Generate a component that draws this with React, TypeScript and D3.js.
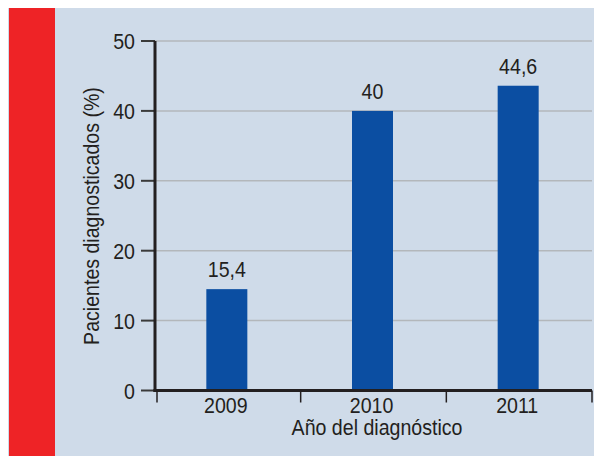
import React from "react";
import * as d3 from "d3";

const years = ["2009", "2010", "2011"];
const barValues = [14.5, 40, 43.6];
const valueLabels = ["15,4", "40", "44,6"];
const yTicks = [0, 10, 20, 30, 40, 50];
const xTitle = "Año del diagnóstico";
const yTitle = "Pacientes diagnosticados (%)";

const FONT = "'Liberation Sans', Arial, sans-serif";
const INK = "#231f20";
const SX = 0.87;

function NText(props: { x: number; y: number; anchor?: string; rotate?: number; size?: number; children: React.ReactNode }) {
  const { x, y, anchor = "middle", rotate = 0, size = 22.5, children } = props;
  return (
    <text
      transform={`translate(${x},${y}) rotate(${rotate}) scale(${SX},1)`}
      textAnchor={anchor}
      fontFamily={FONT}
      fontSize={size}
      fill={INK}
    >
      {children}
    </text>
  );
}

export default function App() {
  const left = 155, right = 592, top = 41, bottom = 390.5;
  const y = d3.scaleLinear().domain([0, 50]).range([bottom, top]);
  const x = d3.scaleBand<string>().domain(years).range([left, right]).padding(0);
  const barW = 41;
  const boundaries = [...years.map((d) => x(d) as number), right];
  const cx = (yr: string) => (x(yr) as number) + x.bandwidth() / 2;

  return (
    <svg width={594} height={448} style={{ display: "block" }}>
      <g transform="translate(-8,-8)">
        <rect x={8} y={8} width={594} height={448} fill="#cfdbe9" />
        <rect x={9} y={8} width={46} height={448} fill="#ee2326" />
        {yTicks.filter((t) => t > 0).map((t) => (
          <line key={"g" + t} x1={left} x2={right} y1={y(t)} y2={y(t)} stroke="#b3b7bb" strokeWidth={1.5} />
        ))}
        {years.map((yr, i) => (
          <rect
            key={yr}
            x={cx(yr) - barW / 2 - 1}
            y={y(barValues[i])}
            width={barW}
            height={y(0) - y(barValues[i])}
            fill="#0b4ea2"
          />
        ))}
        {years.map((yr, i) => (
          <NText key={"v" + yr} x={cx(yr) - 1} y={y(barValues[i]) - 12}>
            {valueLabels[i]}
          </NText>
        ))}
        {yTicks.map((t) => (
          <g key={"t" + t}>
            <line x1={141} x2={left} y1={y(t)} y2={y(t)} stroke="#3a3a3a" strokeWidth={2} />
            <NText x={135} y={y(t) + 8} anchor="end">
              {t}
            </NText>
          </g>
        ))}
        <line x1={left} x2={left} y1={top} y2={bottom + 1.5} stroke={INK} strokeWidth={3} />
        <line x1={left - 1.5} x2={right} y1={bottom} y2={bottom} stroke={INK} strokeWidth={3} />
        {boundaries.map((bx, i) => (
          <line key={"xb" + i} x1={bx + (i === 0 ? 2 : 0)} x2={bx + (i === 0 ? 2 : 0)} y1={bottom} y2={bottom + 12} stroke={INK} strokeWidth={1.5} />
        ))}
        {years.map((yr) => (
          <NText key={"xl" + yr} x={cx(yr) - 2} y={413}>
            {yr}
          </NText>
        ))}
        <NText x={377} y={435}>{xTitle}</NText>
        <NText x={99} y={216} rotate={-90}>{yTitle}</NText>
      </g>
    </svg>
  );
}
